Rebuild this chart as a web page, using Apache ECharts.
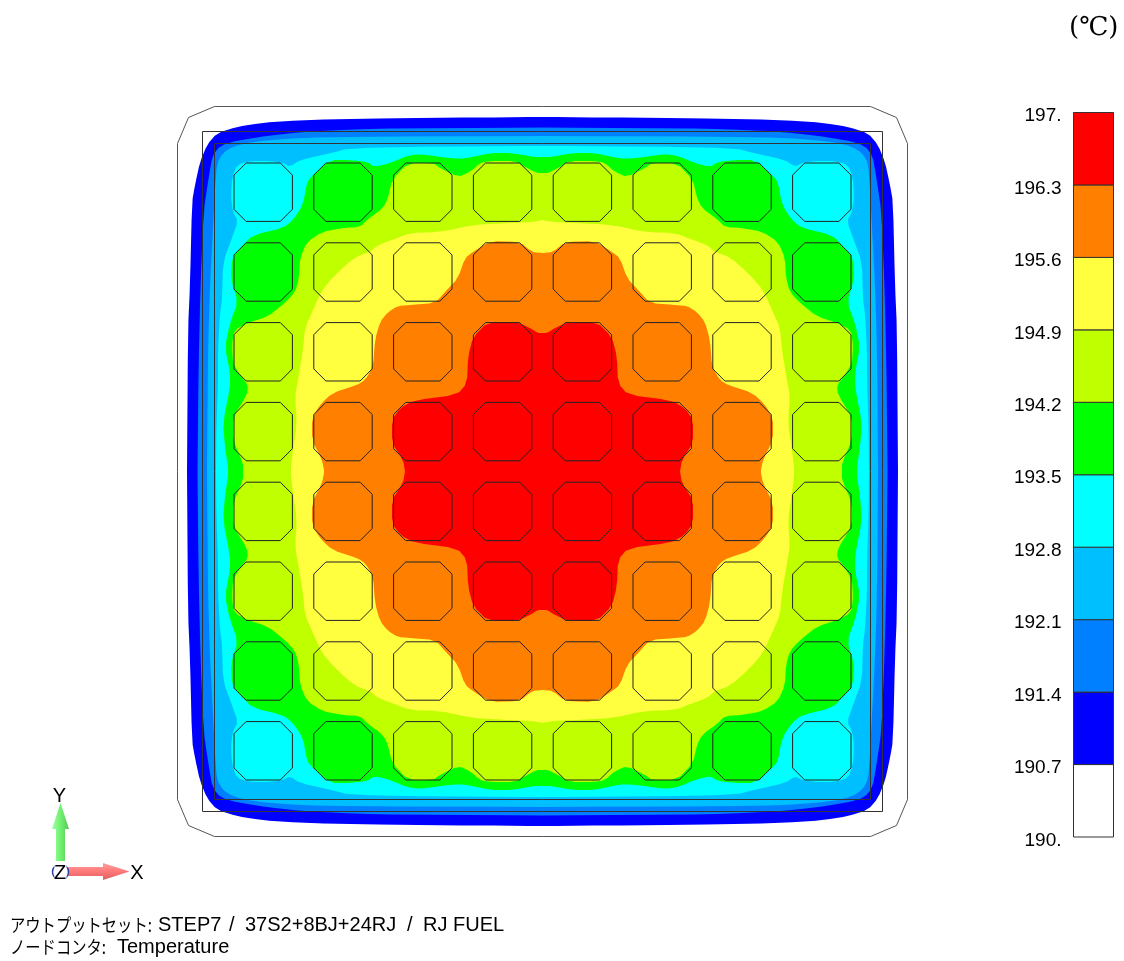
<!DOCTYPE html>
<html><head><meta charset="utf-8">
<style>html,body{margin:0;padding:0;background:#fff}#c{width:1124px;height:961px}</style>
<script src="https://cdn.jsdelivr.net/npm/echarts@6/dist/echarts.min.js"></script>
</head><body><div id="c"></div>
<script>
// Legend
const tickLabels = ['190.','190.7','191.4','192.1','192.8','193.5','194.2','194.9','195.6','196.3','197.'];
const bandColors = ['#ffffff','#0000ff','#0080ff','#00bfff','#00ffff','#00ff00','#bfff00','#ffff40','#ff8000','#ff0000'];
// Contours: one quadrant of the symmetric section, [distance from centre in x, in y], model units
const band190_7 = [[0,354.5],[62.5,354],[142.5,353.5],[240.5,351.5],[282.5,348.5],[305.5,344.5],[325.5,338.5],[335.5,326.5],[342.5,309.5],[347.5,286.5],[350.5,269.5],[352.5,186.5],[354.5,141.5],[355.5,0]];
const band191_4 = [[0,344],[142.5,343],[182,342.5],[239.5,339.5],[272.5,336],[305,331],[322,326],[330,316],[334,293],[339,259],[342,186],[344,100],[345,0]];
const band192_1 = [[0,335.5],[182.5,334.8],[239.5,333.8],[289.5,329.8],[309.5,324.8],[319.5,318.5],[325.5,308.5],[327.5,283.5],[329.5,243.5],[332.5,186.5],[334.5,121.5],[335.5,0]];
const band192_8 = [[0,325.5],[102.5,325],[192.5,323.5],[212.5,318.2],[242.5,311.5],[252.5,304.8],[259.5,308.5],[272.5,310.5],[292.5,310.5],[305.5,306.5],[310.5,293.5],[311.5,273.5],[309.5,259.5],[304.5,250.5],[310.5,233.5],[319.5,209.5],[320.5,171.5],[322.5,158.5],[324.5,121.5],[324.5,88.5],[326,48.5],[326.5,0]];
const band193_5 = [[0,314.5],[9.5,314.5],[29.5,318.5],[52.5,318.5],[69.5,314.5],[82.5,312.5],[102.5,314.5],[122.5,317.5],[135.5,315.5],[152.5,308.5],[167.5,304.5],[175.5,309.5],[192.5,311.5],[212.5,311.5],[229.5,296.5],[235.5,289.5],[239.5,266.5],[249.5,251.5],[259.5,243.5],[289.5,236.5],[302.5,223.5],[310.5,213.5],[311.5,191.5],[304.5,169.5],[312.5,148.5],[317.5,124.5],[312.5,98.5],[312.5,84.5],[319.5,48.5],[317.5,24.5],[314.5,4.5],[314.5,0]];
const band194_2 = [[0,298.5],[5.5,298.5],[17.5,304.5],[27.5,310.5],[52.5,310.5],[62.5,308.5],[72.5,299.5],[84.5,294.5],[102.5,303.5],[109.5,308.5],[134.5,308.5],[150.5,291.5],[154.5,273.5],[159.5,263.5],[175.5,251.5],[182.5,244.5],[200.5,243.5],[220.5,239.5],[235.5,229.5],[242.5,213.5],[243.5,193.5],[247.5,179.5],[257.5,168.5],[275.5,154.5],[292.5,149.5],[308.5,141.5],[310.5,126.5],[309.5,108.5],[302.5,96.5],[294.5,86.5],[295.5,76.5],[309.5,54.5],[309.5,31.5],[299.5,8.5],[299.5,0]];
const band194_9 = [[0,251.5],[9.5,249.5],[35.5,248.5],[69.5,246.5],[102.5,239.5],[132.5,238.5],[150.5,231.5],[164.5,226.5],[172.5,219.5],[187.5,214.5],[207.5,196.5],[220.5,181.5],[229.5,161.5],[237.5,143.5],[239.5,121.5],[244.5,91.5],[247.5,74.5],[245.5,48.5],[249.5,21.5],[251.5,4.5],[251.5,0]];
const band195_6 = [[0,218.5],[10.5,219.5],[22.5,229.5],[52.5,230.5],[69.5,219.5],[77.5,213.5],[84.5,193.5],[95.5,181.5],[107.5,168.5],[132.5,166.5],[144.5,165.5],[154.5,159.5],[162.5,149.5],[167.5,131.5],[169.5,104.5],[177.5,91.5],[185.5,86.5],[210.5,78.5],[222.5,66.5],[230.5,53.5],[230.5,31.5],[220.5,11.5],[218.5,1.5],[218.5,0]];
const band196_3 = [[0,138.5],[4.5,138.5],[12.5,143.5],[25.5,149.5],[54.5,149.5],[69.5,134.5],[74.5,114.5],[75.5,88.5],[85.5,76.5],[127.5,71.5],[142.5,63.5],[150.5,51.5],[150.5,28.5],[139.5,11.5],[137.5,0]];
// Element outlines and pins, model units
const frameOuter = [[328,365],[354,354],[365,328]];
const frameMiddle = [[340,340]];
const frameInner = [[328,328]];
const pinCentres = [-279.3,-199.5,-119.7,-39.9,39.9,119.7,199.5,279.3];

const bands = [band190_7,band191_4,band192_1,band192_8,band193_5,band194_2,band194_9,band195_6,band196_3];
const frames = [frameOuter,frameMiddle,frameInner];
const pinData = [];
pinCentres.forEach(y => pinCentres.forEach(x => pinData.push([x,y])));

function ring(q){
  const r = q.slice().reverse();
  return [].concat(q.map(p=>[-p[0],p[1]]), r.map(p=>[-p[0],-p[1]]), q.map(p=>[p[0],-p[1]]), r.map(p=>[p[0],p[1]]));
}
// corner rounding of a closed outline, for the drawn shape only
function round(pts){
  const out=[];
  for(let i=0;i<pts.length;i++){
    const a=pts[i],b=pts[(i+1)%pts.length];
    out.push([a[0]*0.78+b[0]*0.22,a[1]*0.78+b[1]*0.22],[a[0]*0.22+b[0]*0.78,a[1]*0.22+b[1]*0.78]);
  }
  return out;
}
const R = 29.2, C = 12.1;
const octagon = [[-R,-R+C],[-R+C,-R],[R-C,-R],[R,-R+C],[R,R-C],[R-C,R],[-R+C,R],[-R,R-C]];

const FONT = '"Liberation Sans","Noto Sans CJK JP",sans-serif';
const JP = '"Noto Sans CJK JP",sans-serif';
function txt(text,x,y,size,family,align,sx){
  return {type:'text',x:x,y:y,scaleX:sx||1,style:{text:text,fontFamily:family||FONT,fontSize:size,fill:'#000',align:align||'left',verticalAlign:'middle'}};
}
const chart = echarts.init(document.getElementById('c'), null, {renderer:'canvas'});
chart.setOption({
  animation:false,
  backgroundColor:'#fff',
  grid:[
    {left:142.5,top:71.5,width:800,height:800},
    {left:1073.5,top:112.5,width:40,height:724.5}
  ],
  xAxis:[
    {type:'value',min:-400,max:400,show:false,gridIndex:0},
    {type:'value',min:0,max:1,show:false,gridIndex:1}
  ],
  yAxis:[
    {type:'value',min:-400,max:400,show:false,gridIndex:0},
    {type:'category',boundaryGap:false,data:tickLabels,gridIndex:1,
      axisLine:{show:false},axisTick:{show:false},splitLine:{show:false},
      axisLabel:{interval:0,color:'#000',fontFamily:FONT,fontSize:19,margin:12,verticalAlign:'top',lineHeight:7}}
  ],
  series:[
    {type:'custom',xAxisIndex:0,yAxisIndex:0,silent:true,z:2,
      data:bands.map((b,i)=>[i]),
      renderItem:(p,api)=>{
        const i=p.dataIndex;
        return {type:'polygon',shape:{points:round(ring(bands[i])).map(c=>api.coord(c))},
                style:{fill:bandColors[i+1],stroke:null}};
      }},
    {type:'custom',xAxisIndex:0,yAxisIndex:0,silent:true,z:3,
      data:frames.map((b,i)=>[i]),
      renderItem:(p,api)=>({type:'polygon',shape:{points:ring(frames[p.dataIndex]).map(c=>api.coord(c))},
                style:{fill:'none',stroke:p.dataIndex===0?'#555':'#333',lineWidth:1}})},
    {type:'custom',xAxisIndex:0,yAxisIndex:0,silent:true,z:4,
      data:pinData,
      renderItem:(p,api)=>{
        const x=api.value(0),y=api.value(1);
        return {type:'polygon',shape:{points:octagon.map(o=>api.coord([x+o[0],y+o[1]]))},
                style:{fill:'none',stroke:'#222',lineWidth:1}};
      }},
    {type:'custom',xAxisIndex:1,yAxisIndex:1,silent:true,z:2,
      data:bandColors.map((c,i)=>[i]),
      renderItem:(p,api)=>{
        const i=p.dataIndex,a=api.coord([0,i+1]),b=api.coord([1,i]);
        return {type:'rect',shape:{x:a[0],y:a[1],width:b[0]-a[0],height:b[1]-a[1]},
                style:{fill:bandColors[i],stroke:'#333',lineWidth:1}};
      }}
  ],
  graphic:[
    txt('(℃)',1069,28,26,'"DejaVu Serif","Liberation Serif",serif'),
    txt('アウトプットセット:',10,925,18,JP,'left',0.85),
    txt('STEP7',158,925,20),txt('/',229,925,20),txt('37S2+8BJ+24RJ',245,925,20),txt('/',407,925,20),txt('RJ FUEL',423,925,20),
    txt('ノードコンタ:',10,947,18,JP,'left',0.85),
    txt('Temperature',117,947,20),
    {type:'polygon',shape:{points:[[56,861],[56,829],[52,829],[60.5,803],[69,829],[65,829],[65,861]]},
      style:{fill:new echarts.graphic.LinearGradient(0,0,1,0,[{offset:0,color:'#a0ffa0'},{offset:0.5,color:'#70f070'},{offset:1,color:'#58c858'}]),stroke:null}},
    {type:'polygon',shape:{points:[[68,867],[103,867],[103,863],[129.5,871.5],[103,880],[103,876],[68,876]]},
      style:{fill:new echarts.graphic.LinearGradient(0,0,0,1,[{offset:0,color:'#ffa0a0'},{offset:0.5,color:'#ff7878'},{offset:1,color:'#d86060'}]),stroke:null}},
    {type:'circle',shape:{cx:60.5,cy:872,r:8},style:{fill:'#fff',stroke:'#3040a0',lineWidth:1.5}},
    {type:'rect',shape:{x:54.5,y:862,width:12,height:20},style:{fill:'#fff'}},
    txt('Z',60,873,20,FONT,'center'),
    txt('X',137,873,20,FONT,'center'),
    txt('Y',59.5,796,20,FONT,'center')
  ]
});
</script></body></html>
